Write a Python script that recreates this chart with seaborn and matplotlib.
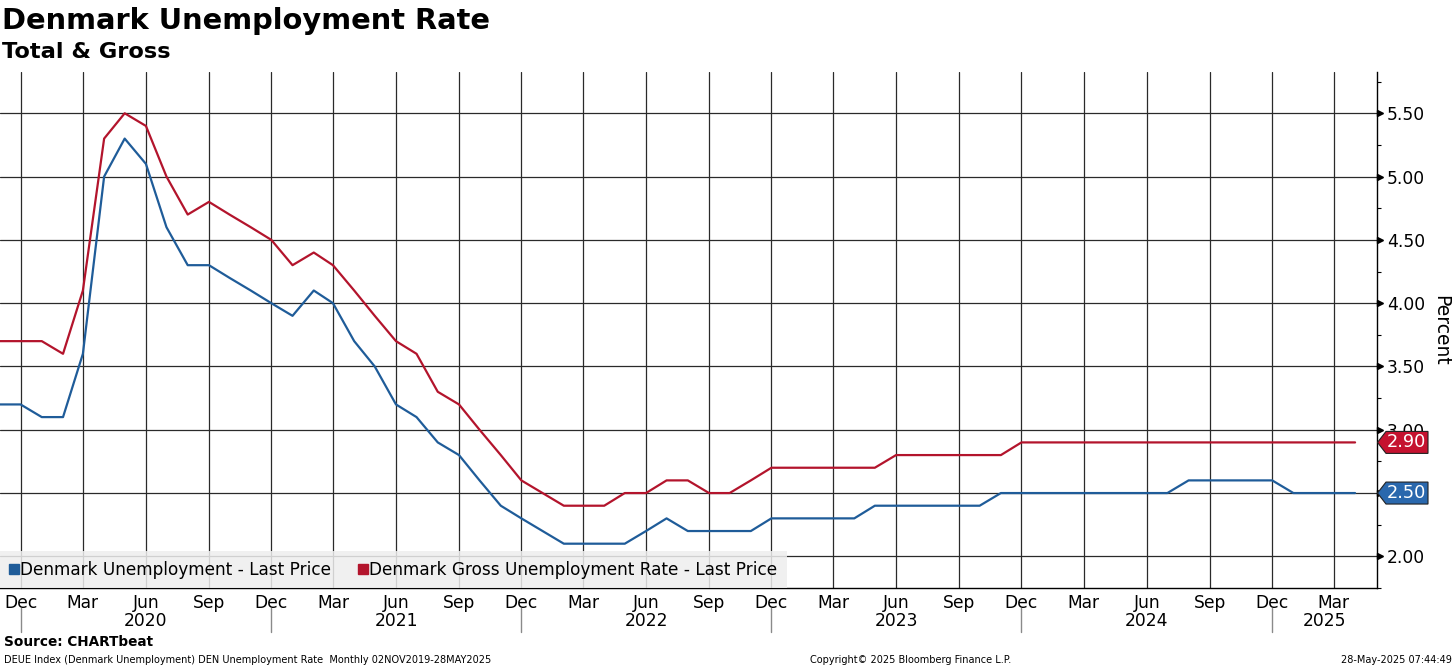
import numpy as np
import pandas as pd
import matplotlib
matplotlib.use("Agg")
import matplotlib.pyplot as plt
import matplotlib.dates as mdates
from matplotlib.lines import Line2D
from matplotlib.patches import Polygon
import seaborn as sns

# monthly data, Nov 2019 - Apr 2025
months = pd.date_range("2019-11-01", "2025-04-01", freq="MS")

unemp = [3.2, 3.2,
         3.1, 3.1, 3.6, 5.0, 5.3, 5.1, 4.6, 4.3, 4.3, 4.2, 4.1, 4.0,
         3.9, 4.1, 4.0, 3.7, 3.5, 3.2, 3.1, 2.9, 2.8, 2.6, 2.4, 2.3,
         2.2, 2.1, 2.1, 2.1, 2.1, 2.2, 2.3, 2.2, 2.2, 2.2, 2.2, 2.3,
         2.3, 2.3, 2.3, 2.3, 2.4, 2.4, 2.4, 2.4, 2.4, 2.4, 2.5, 2.5,
         2.5, 2.5, 2.5, 2.5, 2.5, 2.5, 2.5, 2.6, 2.6, 2.6, 2.6, 2.6,
         2.5, 2.5, 2.5, 2.5]

gross = [3.7, 3.7,
         3.7, 3.6, 4.1, 5.3, 5.5, 5.4, 5.0, 4.7, 4.8, 4.7, 4.6, 4.5,
         4.3, 4.4, 4.3, 4.1, 3.9, 3.7, 3.6, 3.3, 3.2, 3.0, 2.8, 2.6,
         2.5, 2.4, 2.4, 2.4, 2.5, 2.5, 2.6, 2.6, 2.5, 2.5, 2.6, 2.7,
         2.7, 2.7, 2.7, 2.7, 2.7, 2.8, 2.8, 2.8, 2.8, 2.8, 2.8, 2.9,
         2.9, 2.9, 2.9, 2.9, 2.9, 2.9, 2.9, 2.9, 2.9, 2.9, 2.9, 2.9,
         2.9, 2.9, 2.9, 2.9]

series_names = ["Denmark Unemployment - Last Price",
                "Denmark Gross Unemployment Rate - Last Price"]
line_colors = ["#1f5c99", "#b3142c"]
tag_colors = ["#2a68ad", "#c5122f"]
y_ticks = [2.0, 2.5, 3.0, 3.5, 4.0, 4.5, 5.0, 5.5]
years = [2020, 2021, 2022, 2023, 2024, 2025]

df = pd.DataFrame({
    "date": list(months) * 2,
    "value": unemp + gross,
    "series": [series_names[0]] * len(months) + [series_names[1]] * len(months),
})

sns.set_style("white")
plt.rcParams["font.family"] = ["DejaVu Sans"]
plt.rcParams["text.color"] = "black"
plt.rcParams["axes.labelcolor"] = "black"
plt.rcParams["xtick.color"] = "black"
plt.rcParams["ytick.color"] = "black"

W, H = 1456, 668
fig = plt.figure(figsize=(W / 100, H / 100), dpi=100)
ax = fig.add_axes([0, 1 - 588 / H, 1377 / W, (588 - 72) / H])

sns.lineplot(data=df, x="date", y="value", hue="series", palette=line_colors,
             linewidth=1.6, legend=False, ax=ax)

x_left = pd.Timestamp("2019-11-01")
x_right = pd.Timestamp("2025-05-03")
ax.set_xlim(x_left, x_right)
ax.set_ylim(1.755, 5.826)

# x axis
ax.xaxis.set_major_locator(mdates.MonthLocator(bymonth=[3, 6, 9, 12]))
ax.xaxis.set_major_formatter(mdates.DateFormatter("%b"))
ax.xaxis.set_minor_locator(mdates.MonthLocator())
ax.tick_params(axis="x", which="both", direction="out", length=2.5, width=0.8,
               colors="black", labelsize=12.3, pad=2)
ax.set_xlabel("")

# y axis on the right
ax.yaxis.tick_right()
ax.set_yticks(y_ticks)
ax.set_yticks(np.arange(1.75, 5.9, 0.25), minor=True)
ax.yaxis.set_major_formatter(matplotlib.ticker.FormatStrFormatter("%.2f"))
ax.tick_params(axis="y", which="major", length=0, labelsize=12.3, pad=7,
               colors="black")
ax.tick_params(axis="y", which="minor", direction="out", length=3, width=0.8,
               color="black")
ax.yaxis.set_label_position("right")
ax.set_ylabel("Percent", rotation=270, fontsize=13.5, va="center", color="black")
ax.yaxis.set_label_coords(1.0465, 0.5)

ax.plot([1.0025] * len(y_ticks), y_ticks, ls="none", marker=">", ms=4.5,
        color="black", transform=ax.get_yaxis_transform(), clip_on=False)

ax.grid(True, which="major", color="#2a2a2a", linewidth=0.9)
for s in ["left", "top"]:
    ax.spines[s].set_visible(False)
for s in ["right", "bottom"]:
    ax.spines[s].set_color("black")
    ax.spines[s].set_linewidth(1.0)

# year labels and separators
for yr in years:
    start = pd.Timestamp(f"{yr - 1}-12-01")
    end = min(pd.Timestamp(f"{yr}-12-01"), x_right)
    mid = start + (end - start) / 2
    ax.annotate(str(yr), xy=(mid, 0), xycoords=("data", "axes fraction"),
                xytext=(0, -23.5), textcoords="offset points",
                ha="center", va="center", fontsize=12.3, color="black")
for yr in range(2019, 2025):
    d = pd.Timestamp(f"{yr}-12-01")
    ax.plot([d, d], [-0.0388, -0.0853], color="#8a8a8a", lw=1.0,
            transform=ax.get_xaxis_transform(), clip_on=False)

# last value tags
px_x = 1 / 1377
px_y = (5.826 - 1.755) / 516
for vals, col in zip([unemp, gross], tag_colors):
    v = vals[-1]
    pts = [(1.0 + 0.5 * px_x, v), (1.0 + 9 * px_x, v + 11 * px_y),
           (1.0 + 51 * px_x, v + 11 * px_y), (1.0 + 51 * px_x, v - 11 * px_y),
           (1.0 + 9 * px_x, v - 11 * px_y)]
    ax.add_patch(Polygon(pts, closed=True, facecolor=col, edgecolor="#222222",
                         lw=0.8, transform=ax.get_yaxis_transform(), clip_on=False,
                         zorder=5))
    ax.text(1.0 + 29 * px_x, v, f"{v:.2f}", color="white", fontsize=12.8,
            ha="center", va="center", transform=ax.get_yaxis_transform(),
            clip_on=False, zorder=6)

# legend
handles = [Line2D([], [], ls="none", marker="s", ms=6.5, color=c) for c in line_colors]
leg = ax.legend(handles, series_names, loc="lower left", bbox_to_anchor=(0, 0),
                ncol=2, frameon=True, fancybox=False, facecolor="#eeeeee",
                edgecolor="none", framealpha=0.85, fontsize=12.2,
                handlelength=0.5, handletextpad=0.15, columnspacing=1.6,
                borderaxespad=0, borderpad=0.55)
for t in leg.get_texts():
    t.set_color("black")

# titles and footer
fig.text(2 / W, 1 - 21 / H, "Denmark Unemployment Rate", fontsize=20.8,
         fontweight="bold", ha="left", va="center", color="black")
fig.text(2 / W, 1 - 52 / H, "Total & Gross", fontsize=16.2, fontweight="bold",
         ha="left", va="center", color="black")
fig.text(4 / W, 1 - 642 / H, "Source: CHARTbeat", fontsize=9.8,
         fontweight="bold", ha="left", va="center", color="black")
fig.text(4 / W, 1 - 660 / H,
         "DEUE Index (Denmark Unemployment) DEN Unemployment Rate  Monthly 02NOV2019-28MAY2025",
         fontsize=7, ha="left", va="center", color="black")
fig.text(810 / W, 1 - 660 / H, "Copyright\u00a9 2025 Bloomberg Finance L.P.",
         fontsize=7, ha="left", va="center", color="black")
fig.text(1452 / W, 1 - 660 / H, "28-May-2025 07:44:49", fontsize=7,
         ha="right", va="center", color="black")

fig.savefig("out.png", dpi=100)
